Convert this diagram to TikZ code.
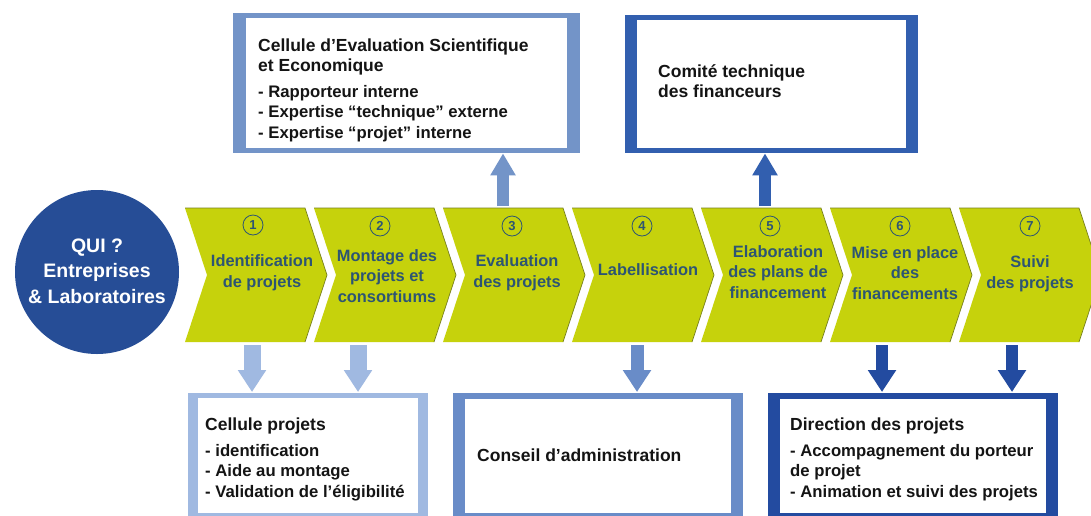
\documentclass[tikz,border=0pt]{standalone}
\usepackage{fontspec}
\setmainfont{Liberation Sans}
\usetikzlibrary{arrows.meta}

\definecolor{chevfill}{RGB}{198,210,12}
\definecolor{chevedge}{RGB}{120,128,30}
\definecolor{chevtext}{RGB}{45,85,115}
\definecolor{qui}{RGB}{38,77,150}
\definecolor{bA}{RGB}{115,148,200}
\definecolor{bB}{RGB}{50,95,175}
\definecolor{bC}{RGB}{160,185,225}
\definecolor{bD}{RGB}{105,140,200}
\definecolor{bE}{RGB}{35,75,160}
\definecolor{boxtext}{RGB}{20,20,20}

\newcommand\drawchev[1]{%
  \fill[chevfill] (#1,208) -- ++(120,0) -- ++(22,67) -- ++(-22,67) -- ++(-120,0) -- ++(22,-67) -- cycle;
  \draw[chevedge, line width=0.7pt] (#1,208) -- ++(120,0) -- ++(22,67) -- ++(-22,67);
}

\begin{document}
\begin{tikzpicture}[x=1pt,y=-1pt,
  chevlab/.style={align=center, text=chevtext, inner sep=0pt, font=\fontsize{16.4}{20.5}\selectfont\bfseries},
  num/.style={circle, draw=chevtext, line width=0.8pt, inner sep=0pt, minimum size=20pt, text=chevtext, font=\fontsize{13}{13}\selectfont\bfseries},
  frame/.style={fill=#1, inner sep=0pt, anchor=north west},
  head/.style={anchor=base west, align=left, inner sep=0pt, text=boxtext, font=\fontsize{17.5}{20}\selectfont\bfseries},
  items/.style={anchor=base west, align=left, inner sep=0pt, text=boxtext, font=\fontsize{16.7}{20.5}\selectfont\bfseries},
  blockarrow/.style n args={3}{draw=#1, line width=#2, -{Triangle[length=22pt,width=#3]}}
]
\clip (0,0) rectangle (1091,515);
\fill[white] (0,0) rectangle (1091,515);

% --- top boxes (text nodes anchored at the baseline of their last line) ---
\node[frame=bA, minimum width=347pt, minimum height=140pt] (box1) at (233,13) {};
\fill[white] ([xshift=13pt,yshift=-5pt]box1.north west) rectangle ([xshift=-13pt,yshift=5pt]box1.south east);
\node[head] (h1) at (258,71) {Cellule d'Evaluation Scientifique\\et Economique};
\node[items] (l1) at (258,138) {- Rapporteur interne\\- Expertise “technique” externe\\- Expertise “projet” interne};

\node[frame=bB, minimum width=293pt, minimum height=138pt] (box2) at (625,15) {};
\fill[white] ([xshift=12pt,yshift=-5pt]box2.north west) rectangle ([xshift=-12pt,yshift=5pt]box2.south east);
\node[head] (h2) at (658,97) {Comité technique\\des financeurs};

% --- bottom boxes ---
\node[frame=bC, minimum width=240pt, minimum height=125pt] (box3) at (188,393) {};
\fill[white] ([xshift=10pt,yshift=-5pt]box3.north west) rectangle ([xshift=-10pt,yshift=5pt]box3.south east);
\node[head] (h3) at (205,430) {Cellule projets};
\node[items] (l3) at (205,497) {- identification\\- Aide au montage\\- Validation de l’éligibilité};

\node[frame=bD, minimum width=290pt, minimum height=125pt] (box4) at (453,393) {};
\fill[white] ([xshift=12pt,yshift=-6pt]box4.north west) rectangle ([xshift=-12pt,yshift=5pt]box4.south east);
\node[head] (h4) at (477,461) {Conseil d’administration};

\node[frame=bE, minimum width=290pt, minimum height=125pt] (box5) at (768,393) {};
\fill[white] ([xshift=12pt,yshift=-6pt]box5.north west) rectangle ([xshift=-12pt,yshift=5pt]box5.south east);
\node[head] (h5) at (790,430) {Direction des projets};
\node[items] (l5) at (790,497) {- Accompagnement du porteur\\de projet\\- Animation et suivi des projets};

% --- circle ---
\node[circle, fill=qui, minimum size=164pt, inner sep=0pt] (qui) at (97,272) {};
\node[align=center, text=white, inner sep=0pt, font=\fontsize{19.5}{25.5}\selectfont\bfseries] (quitxt) at (97,271) {QUI ?\\Entreprises\\\& Laboratoires};

% --- chevrons ---
\drawchev{185}
\drawchev{314}
\drawchev{443}
\drawchev{572}
\drawchev{701}
\drawchev{830}
\drawchev{959}

\node[num] (n1) at (253,225) {1};
\node[num] (n2) at (380,226) {2};
\node[num] (n3) at (512,226) {3};
\node[num] (n4) at (642,226) {4};
\node[num] (n5) at (770,226) {5};
\node[num] (n6) at (900,226) {6};
\node[num] (n7) at (1030,226) {7};

\node[chevlab] (c1) at (262,273) {Identification\\de projets};
\node[chevlab] (c2) at (387,276) {Montage des\\projets et\\consortiums};
\node[chevlab] (c3) at (517,273) {Evaluation\\des projets};
\node[chevlab] (c4) at (648,270) {Labellisation};
\node[chevlab] (c5) at (778,272) {Elaboration\\des plans de\\financement};
\node[chevlab] (c6) at (905,273) {Mise en place\\des\\financements};
\node[chevlab] (c7) at (1030,274) {Suivi\\des projets};

% --- arrow anchors on chevrons ---
\coordinate (u3) at (503,206);
\coordinate (u5) at (765,206);
\coordinate (d1) at (252,345);
\coordinate (d2) at (358,345);
\coordinate (d4) at (637,345);
\coordinate (d6) at (882,345);
\coordinate (d7) at (1012,345);

\draw[blockarrow={bA}{11.5pt}{24pt}] (u3) -- (u3 |- box1.south);
\draw[blockarrow={bB}{11.5pt}{24pt}] (u5) -- (u5 |- box2.south);
\draw[blockarrow={bC}{17pt}{27pt}] (d1) -- ([yshift=1pt]d1 |- box3.north);
\draw[blockarrow={bC}{17pt}{27pt}] (d2) -- ([yshift=1pt]d2 |- box3.north);
\draw[blockarrow={bD}{13pt}{27pt}] (d4) -- ([yshift=1pt]d4 |- box4.north);
\draw[blockarrow={bE}{12pt}{27pt}] (d6) -- ([yshift=1pt]d6 |- box5.north);
\draw[blockarrow={bE}{12pt}{27pt}] (d7) -- ([yshift=1pt]d7 |- box5.north);
\end{tikzpicture}
\end{document}
